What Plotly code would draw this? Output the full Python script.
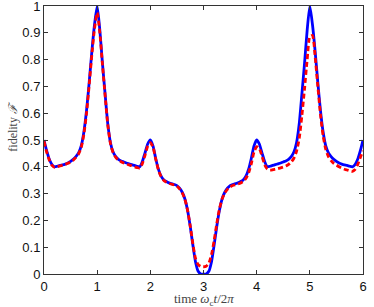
import numpy as np
import plotly.graph_objects as go

# time axis, omega_c t / 2pi, sampled every 0.05
t = np.round(np.arange(0, 6.0001, 0.05), 2)

# solid blue curve (ideal fidelity)
fid_ideal = [
    0.500, 0.460, 0.428, 0.408, 0.400, 0.402, 0.405, 0.407, 0.410, 0.414,
    0.420, 0.428, 0.438, 0.452, 0.478, 0.530, 0.610, 0.715, 0.830, 0.930,
    1.000, 0.910, 0.785, 0.670, 0.560, 0.490, 0.455, 0.438, 0.428, 0.422,
    0.418, 0.414, 0.411, 0.408, 0.405, 0.402, 0.400, 0.420, 0.452, 0.485,
    0.500, 0.478, 0.432, 0.392, 0.366, 0.352, 0.345, 0.340, 0.337, 0.334,
    0.330, 0.320, 0.305, 0.280, 0.238, 0.178, 0.108, 0.045, 0.010, 0.000,
    0.000,
    0.000, 0.010, 0.045, 0.108, 0.178, 0.238, 0.280, 0.305, 0.320, 0.330,
    0.334, 0.337, 0.340, 0.345, 0.352, 0.366, 0.392, 0.432, 0.478, 0.500,
    0.485, 0.452, 0.420, 0.400, 0.402, 0.405, 0.408, 0.411, 0.414, 0.418,
    0.422, 0.428, 0.438, 0.455, 0.490, 0.560, 0.670, 0.785, 0.910, 1.000,
    0.930, 0.830, 0.715, 0.610, 0.530, 0.478, 0.452, 0.438, 0.428, 0.420,
    0.414, 0.410, 0.407, 0.405, 0.402, 0.400, 0.408, 0.428, 0.460, 0.500,
]

# dashed red curve
fid_real = [
    0.495, 0.455, 0.425, 0.405, 0.398, 0.400, 0.403, 0.406, 0.409, 0.413,
    0.418, 0.425, 0.435, 0.448, 0.472, 0.522, 0.600, 0.705, 0.818, 0.915,
    0.975, 0.900, 0.780, 0.665, 0.556, 0.487, 0.452, 0.435, 0.425, 0.419,
    0.414, 0.410, 0.407, 0.404, 0.400, 0.397, 0.395, 0.412, 0.443, 0.477,
    0.490, 0.474, 0.430, 0.390, 0.364, 0.350, 0.343, 0.338, 0.335, 0.332,
    0.328, 0.318, 0.303, 0.279, 0.238, 0.180, 0.113, 0.058, 0.035, 0.028,
    0.027,
    0.029, 0.040, 0.072, 0.125, 0.188, 0.243, 0.280, 0.302, 0.316, 0.325,
    0.330, 0.333, 0.336, 0.340, 0.346, 0.357, 0.378, 0.412, 0.455, 0.475,
    0.468, 0.440, 0.408, 0.392, 0.388, 0.389, 0.391, 0.393, 0.396, 0.399,
    0.403, 0.409, 0.418, 0.432, 0.458, 0.505, 0.590, 0.690, 0.800, 0.885,
    0.890, 0.810, 0.700, 0.595, 0.515, 0.465, 0.438, 0.423, 0.413, 0.406,
    0.400, 0.395, 0.391, 0.388, 0.385, 0.383, 0.390, 0.408, 0.435, 0.460,
]

x_ticks = [0, 1, 2, 3, 4, 5, 6]
y_ticks = [0, 0.1, 0.2, 0.3, 0.4, 0.5, 0.6, 0.7, 0.8, 0.9, 1]
y_labels = ["0", "0.1", "0.2", "0.3", "0.4", "0.5", "0.6", "0.7", "0.8", "0.9", "1"]

fig = go.Figure()
fig.add_trace(go.Scatter(x=t, y=fid_ideal, mode="lines",
                         line=dict(color="#0000ff", width=2.8, shape="spline", smoothing=0.6),
                         showlegend=False))
fig.add_trace(go.Scatter(x=t, y=fid_real, mode="lines",
                         line=dict(color="#ff0000", width=2.8, dash="5px,3px",
                                   shape="spline", smoothing=0.6),
                         showlegend=False))

axis_common = dict(showline=True, linecolor="#333333", linewidth=1, mirror="ticks",
                   ticks="inside", ticklen=4, tickcolor="#333333", showgrid=False,
                   zeroline=False, automargin=False, ticklabeloverflow="allow",
                   tickfont=dict(family="Liberation Sans, Arial", size=13, color="#111111"))

fig.update_xaxes(range=[0, 6], tickvals=x_ticks, **axis_common)
fig.update_yaxes(range=[0, 1], tickvals=y_ticks, ticktext=y_labels, **axis_common)

title_font = dict(family="Liberation Serif, DejaVu Serif", size=13, color="#444444")
fig.add_annotation(text="time <i>ω</i><sub>c</sub><i>t</i>/2<i>π</i>",
                   xref="paper", yref="paper", x=0.5, y=-0.095,
                   xanchor="center", yanchor="middle", showarrow=False, font=title_font)
fig.add_annotation(text="fidelity <i>ℱ</i>",
                   xref="paper", yref="paper", x=-0.1, y=0.55, textangle=-90,
                   xanchor="center", yanchor="middle", showarrow=False,
                   font=dict(family="Liberation Serif, DejaVu Serif", size=12, color="#444444"))

fig.update_layout(width=374, height=307, plot_bgcolor="white", paper_bgcolor="white",
                  margin=dict(l=44, r=11, t=6, b=33))

# page body has a default margin that pushes the fixed-size figure off screen
fig.write_html("out.html", config={"displayModeBar": False},
               post_script="document.body.style.margin='0';document.body.style.overflow='hidden';")
